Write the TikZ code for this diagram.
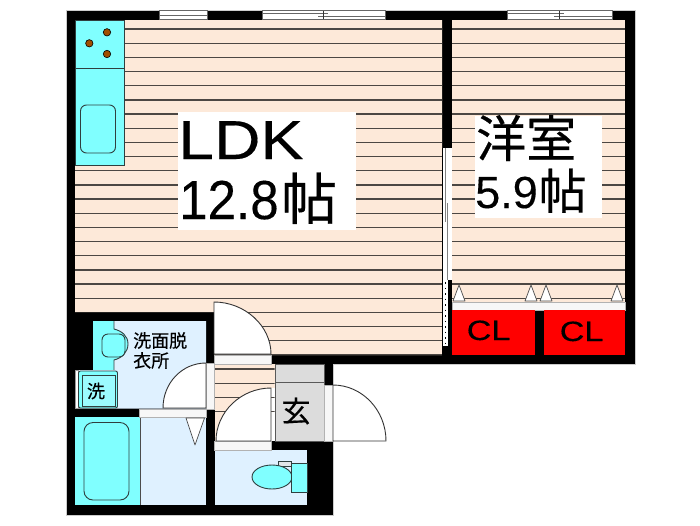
\documentclass[tikz,border=0pt]{standalone}
\usepackage{fontspec}
\setmainfont[FakeBold=0.25]{Liberation Sans}
\newfontfamily\cjkfont[FakeBold=0.4]{Noto Sans CJK JP}
\definecolor{floorwood}{HTML}{FDE9D9}
\definecolor{stripe}{HTML}{4C4743}
\definecolor{wetroom}{HTML}{DFF1FF}
\definecolor{fixture}{HTML}{80FFFF}
\definecolor{entry}{HTML}{DCDCDC}
\definecolor{outline}{HTML}{2F3F3F}
\definecolor{burner}{HTML}{A04F00}
\tikzset{
  doorleaf/.style={fill=white,draw=black!80,line width=0.9pt},
  sill/.style={fill=white!97!black,draw=black!30,line width=0.5pt},
  fixturebox/.style={fill=fixture,draw=outline,line width=0.9pt},
  stopper/.style={fill=white,draw=black!70,line width=0.7pt,line join=round},
  txt/.style={inner sep=0pt,anchor=base west,text=black},
}
\begin{document}
\begin{tikzpicture}[x=1pt,y=-1pt]
    \useasboundingbox (0,0) rectangle (700,525);
    \fill[white] (0,0) rectangle (700,525);
    \fill[black,draw=black!20,line width=0.6pt] (66,10) -- (635,10) -- (635,364) -- (333,364) -- (333,515) -- (66,515) -- cycle;
    \fill[floorwood] (75,20) -- (442,20) -- (442,355) -- (214,355) -- (214,312) -- (75,312) -- cycle;
    \fill[floorwood] (452,20) rectangle (625,302);
    \fill[floorwood] (215,364) rectangle (271,441);
    \fill[white] (271,364) rectangle (274.5,441);
    \fill[floorwood] (271,364) rectangle (274.5,388);
    \fill[entry,draw=black!65,line width=0.7pt] (275,364) rectangle (324,441);
    \draw[black!65,line width=0.7pt] (275,382) -- (324,382);
    \begin{scope}
      \clip (75,20) rectangle (442,312) (214,312) rectangle (442,355) (215,364) rectangle (274.5,441) (452,20) rectangle (625,302);
      \foreach \i in {0,...,27}
        \draw[stripe,line width=1.3pt] (75,{29+14.17*\i}) -- (625,{29+14.17*\i});
    \end{scope}
    \fill[black] (442,148) rectangle (452,355);
    \fill[white] (442.5,148) rectangle (451.5,280);
    \draw[black!50,line width=0.9pt] (445.5,148) -- (445.5,222);
    \draw[black!50,line width=0.9pt] (447.5,203) -- (447.5,280);
    \fill[white] (443,280) rectangle (448,346);
    \draw[black,line width=0.8pt,dash pattern=on 1.5pt off 4pt] (445.5,282) -- (445.5,345);
    \fill[white,draw=black!60,line width=0.5pt] (159,10.5) rectangle (207,19.5);
    \draw[black!60,line width=0.8pt] (159,15) -- (207,15);
    \foreach \xa/\xb/\xm in {262/385/323,507/612/559} {
      \fill[white,draw=black!60,line width=0.5pt] (\xa,10.5) rectangle (\xb,19.5);
      \draw[black!60,line width=0.8pt] (\xa,13.5) -- (\xm+5,13.5) (\xm-5,16.5) -- (\xb,16.5);
      \draw[black!80,line width=0.8pt] (\xm,11) -- (\xm,19);
    }
    \node[fill=white,inner sep=0pt,minimum width=178.5pt,minimum height=118pt] (ldkbox) at (266.75,171) {};
    \node[fill=white,inner sep=0pt,minimum width=127pt,minimum height=102pt] (roombox) at (538.5,167) {};
    \node[txt,font=\fontsize{55}{55}\selectfont,xscale=1.17] (ldktxt) at (178,159) {LDK};
    \node[txt,font=\fontsize{55}{55}\selectfont,xscale=0.93] (areatxt) at (179,219) {12.8};
    \node[txt,font=\fontsize{56}{56}\cjkfont\selectfont] (areaunit) at (281,219.5) {帖};
    \node[txt,font=\fontsize{50}{50}\cjkfont\selectfont] (roomtxt) at (476,157) {洋室};
    \node[txt,font=\fontsize{45}{45}\selectfont] (roomarea) at (475,208) {5.9};
    \node[txt,font=\fontsize{48}{48}\cjkfont\selectfont] (roomunit) at (538.5,209) {帖};
    \fill[fixture,draw=outline,line width=0.9pt] (75,20) rectangle (124,165);
    \draw[outline,line width=0.9pt] (75,68) -- (124,68);
    \foreach \bx/\by in {107/32.3,89.3/43.3,107/54}
      \draw[fill=burner,draw=black,line width=0.6pt] (\bx,\by) circle (3.7);
    \draw[fixturebox,rounded corners=6pt] (80.5,105) rectangle (115.5,153);
    \draw[sill] (214,355) rectangle (271,364);
    \draw[doorleaf] (214,302) .. controls (245,302) and (271,326) .. (271,354) -- (214,354) -- cycle;
    \fill[wetroom] (93,321) -- (206,321) -- (206,408.5) -- (75,408.5) -- (75,370) -- (93,370) -- cycle;
    \fill[white,draw=black!40,line width=0.4pt] (75.5,370) rectangle (78,408);
    \fill[fixture] (93,321) -- (114,321) -- (114,370) -- (93,370) -- cycle;
    \fill[fixture] (114,329) .. controls (122,331) and (128,336) .. (128,344) .. controls (128,352) and (122,358) .. (114,360) -- cycle;
    \draw[outline,line width=0.9pt] (114,321) -- (114,329) .. controls (122,331) and (128,336) .. (128,344) .. controls (128,352) and (122,358) .. (114,360) -- (114,370);
    \draw[fixturebox,rounded corners=6pt] (102,334) rectangle (125,357);
    \draw[fixturebox,rounded corners=2pt] (78.5,371) rectangle (117.5,408);
    \draw[fill=fixture!70!wetroom,draw=outline,line width=1pt] (82,375) rectangle (115,406);
    \node[inner sep=0pt,font=\fontsize{18}{18}\cjkfont\selectfont] (washer) at (96,391) {洗};
    \node[inner sep=0pt,anchor=north west,align=left,font=\fontsize{18}{20}\cjkfont\selectfont] (washroom) at (133,332) {洗面脱\\衣所};
    \draw[sill] (206,363) rectangle (214,409);
    \draw[doorleaf] (206,363) .. controls (182,363) and (163,383) .. (163,408) -- (206,408) -- cycle;
    \fill[wetroom] (140,417) rectangle (206,505);
    \fill[fixture] (75,417) rectangle (140,505);
    \draw[black!70,line width=0.6pt] (140,417) -- (140,505);
    \draw[fixturebox,rounded corners=9pt] (84,422.5) rectangle (129,500);
    \draw[sill] (139,409) rectangle (206,417);
    \draw[stopper] (186,418) -- (204.5,418) -- (195,445) -- cycle;
    \fill[wetroom] (215,450) rectangle (307,505);
    \draw[sill] (214,441) rectangle (271,450);
    \draw[doorleaf] (271,388) .. controls (241,388) and (216,412) .. (216,441) -- (271,441) -- cycle;
    \draw[fill=wetroom!70!black!30,draw=outline,line width=0.7pt] (278,461) rectangle (291,466);
    \draw[fixturebox] (272,477) ellipse (20 and 12);
    \draw[fixturebox] (291,463) rectangle (307,492);
    \node[inner sep=0pt,font=\fontsize{29}{29}\cjkfont\selectfont] (genkan) at (296,411) {玄};
    \draw[sill] (324,385) rectangle (333,441);
    \draw[doorleaf] (333,385) .. controls (362,385) and (386,410) .. (386,441) -- (333,441) -- cycle;
    \draw[sill] (452,302) rectangle (625,310);
    \foreach \tx in {459,531,546,617}
      \draw[stopper] (\tx-6,301) -- (\tx,285) -- (\tx+6,301) -- cycle;
    \node[fill=red,inner sep=0pt,minimum width=83pt,minimum height=44.5pt] (closetone) at (493.5,332.25) {};
    \node[fill=red,inner sep=0pt,minimum width=81pt,minimum height=44.5pt] (closettwo) at (584.5,332.25) {};
    \node[txt,font=\fontsize{28}{28}\selectfont,xscale=1.22] (cltxtone) at (466.5,340) {CL};
    \node[txt,font=\fontsize{28}{28}\selectfont,xscale=1.22] (cltxttwo) at (559.5,341) {CL};
\end{tikzpicture}
\end{document}
